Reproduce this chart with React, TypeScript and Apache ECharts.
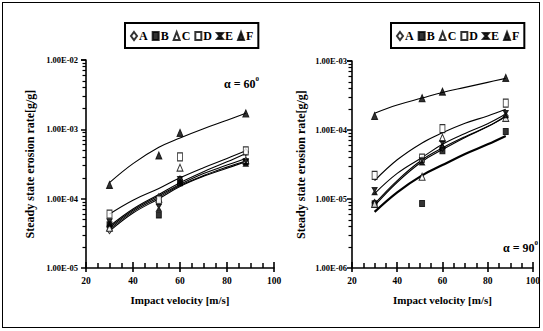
import React, { useEffect, useRef } from "react";
import * as echarts from "echarts";

const X = [30, 51, 60, 88];
const FIT_X = [30, 40, 51, 60, 70, 80, 88];
const NAMES = ["A", "B", "C", "D", "E", "F"];
const X_TICKS = [20, 40, 60, 80, 100];

// alpha = 60 deg : measured points
const a60 = [3.5e-5, 1.05e-4, 1.9e-4, 4.7e-4];
const b60 = [4.2e-5, 5.8e-5, 1.7e-4, 3.4e-4];
const c60 = [3.8e-5, 1.0e-4, 2.8e-4, 3.6e-4];
const d60 = [6.0e-5, 9.6e-5, 4.0e-4, 4.9e-4];
const e60 = [4.5e-5, 7.4e-5, 1.85e-4, 3.3e-4];
const f60 = [1.58e-4, 4.2e-4, 8.9e-4, 1.7e-3];
// alpha = 60 deg : fitted curves read at FIT_X
const aFit60 = [4.0e-5, 7.1e-5, 1.15e-4, 1.7e-4, 2.45e-4, 3.4e-4, 4.5e-4];
const bFit60 = [3.4e-5, 6.2e-5, 1.0e-4, 1.5e-4, 2.1e-4, 2.75e-4, 3.4e-4];
const cFit60 = [3.8e-5, 6.8e-5, 1.1e-4, 1.6e-4, 2.3e-4, 3.05e-4, 3.8e-4];
const dFit60 = [6.0e-5, 9.5e-5, 1.4e-4, 2.0e-4, 2.8e-4, 3.8e-4, 4.9e-4];
const eFit60 = [3.6e-5, 6.5e-5, 1.05e-4, 1.55e-4, 2.15e-4, 2.85e-4, 3.5e-4];
const fFit60 = [1.7e-4, 3.2e-4, 5.5e-4, 7.5e-4, 1.02e-3, 1.35e-3, 1.7e-3];

// alpha = 90 deg : measured points
const a90 = [8.8e-6, 3.7e-5, 5.5e-5, 1.6e-4];
const b90 = [8.5e-6, 8.6e-6, 5.0e-5, 9.5e-5];
const c90 = [8.5e-6, 2.1e-5, 7.7e-5, 1.5e-4];
const d90 = [2.2e-5, 3.9e-5, 1.05e-4, 2.45e-4];
const e90 = [1.3e-5, 3.5e-5, 6.2e-5, 1.7e-4];
const f90 = [1.6e-4, 2.9e-4, 3.6e-4, 5.7e-4];
// alpha = 90 deg : fitted curves read at FIT_X
const aFit90 = [8.0e-6, 1.75e-5, 3.5e-5, 5.2e-5, 7.8e-5, 1.12e-4, 1.6e-4];
const bFit90 = [6.5e-6, 1.25e-5, 2.2e-5, 3.1e-5, 4.5e-5, 6.2e-5, 8.2e-5];
const cFit90 = [8.5e-6, 1.85e-5, 3.7e-5, 5.5e-5, 8.0e-5, 1.12e-4, 1.55e-4];
const dFit90 = [1.85e-5, 3.7e-5, 6.5e-5, 9.1e-5, 1.25e-4, 1.6e-4, 2.0e-4];
const eFit90 = [1.2e-5, 2.35e-5, 4.0e-5, 6.2e-5, 8.9e-5, 1.23e-4, 1.7e-4];
const fFit90 = [1.75e-4, 2.3e-4, 2.9e-4, 3.5e-4, 4.15e-4, 4.9e-4, 5.6e-4];

const POINTS = [
  [a60, b60, c60, d60, e60, f60],
  [a90, b90, c90, d90, e90, f90],
];
const FITS = [
  [aFit60, bFit60, cFit60, dFit60, eFit60, fFit60],
  [aFit90, bFit90, cFit90, dFit90, eFit90, fFit90],
];

const FONT = "Liberation Serif";

const SYMBOLS: any[] = [
  { symbol: "diamond", size: [5, 7], fill: "#fff" },
  { symbol: "rect", size: [5, 6], fill: "#000" },
  { symbol: "triangle", size: [6, 7], fill: "#fff" },
  { symbol: "rect", size: [5, 8], fill: "#fff" },
  { symbol: "path://M0 0H10L6 5L10 10H0L4 5Z", size: [5, 7], fill: "#000" },
  { symbol: "triangle", size: [6, 7], fill: "#000" },
];

function fmtExp(v: number) {
  const e = Math.round(Math.log10(v));
  const s = e < 0 ? "-" : "+";
  const a = Math.abs(e);
  return "1.00E" + s + (a < 10 ? "0" + a : "" + a);
}

export default function App() {
  const ref = useRef<HTMLDivElement>(null);
  useEffect(() => {
    const chart = echarts.init(ref.current!, null, { renderer: "svg" });
    const grids = [
      { left: 86, top: 60, width: 188, height: 208 },
      { left: 352, top: 61, width: 188, height: 207 },
    ];
    const xAxes: any[] = [];
    const yAxes: any[] = [];
    const yRanges = [
      [1e-5, 1e-2],
      [1e-6, 1e-3],
    ];
    grids.forEach((g, i) => {
      xAxes.push({
        type: "value",
        gridIndex: i,
        min: X_TICKS[0],
        max: X_TICKS[X_TICKS.length - 1],
        interval: 20,
        axisLine: { show: true, lineStyle: { color: "#000", width: 1.6 } },
        axisTick: { show: true, inside: true, length: 6, lineStyle: { color: "#000", width: 1.6 } },
        minorTick: { show: true, splitNumber: 4, length: 5, lineStyle: { color: "#000", width: 1.5 } },
        splitLine: { show: false },
        axisLabel: {
          color: "#000",
          fontFamily: FONT,
          fontWeight: "bold",
          fontSize: 9.5,
          margin: 8,
        },
        name: "Impact velocity [m/s]",
        nameLocation: "middle",
        nameGap: 26,
        nameTextStyle: { color: "#000", fontFamily: FONT, fontWeight: "bold", fontSize: 11 },
      });
      xAxes.push({
        type: "value",
        gridIndex: i,
        min: X_TICKS[0],
        max: X_TICKS[X_TICKS.length - 1],
        interval: 20,
        position: "bottom",
        axisLine: { show: false },
        axisTick: { show: true, inside: false, length: 4, lineStyle: { color: "#000", width: 1.6 } },
        axisLabel: { show: false },
        splitLine: { show: false },
      });
      yAxes.push({
        type: "log",
        gridIndex: i,
        min: yRanges[i][0],
        max: yRanges[i][1],
        axisLine: { show: true, lineStyle: { color: "#000", width: 1.6 } },
        axisTick: { show: true, length: 5, lineStyle: { color: "#000", width: 1.5 } },
        minorTick: { show: true, splitNumber: 9, length: 3.5, lineStyle: { color: "#000", width: 1.2 } },
        splitLine: { show: false },
        axisLabel: {
          color: "#000",
          fontFamily: FONT,
          fontWeight: "bold",
          fontSize: 8.5,
          margin: i === 0 ? 8 : 5,
          formatter: (v: number) => fmtExp(v),
        },
        name: "Steady state erosion rate[g/g]",
        nameLocation: "middle",
        nameGap: i === 0 ? 50 : 45,
        nameTextStyle: { color: "#000", fontFamily: FONT, fontWeight: "bold", fontSize: 12 },
      });
    });

    const series: any[] = [];
    [0, 1].forEach((p) => {
      NAMES.forEach((n, k) => {
        const fitWidth = p === 1 && k === 1 ? 2.2 : 1.1;
        series.push({
          type: "line",
          name: n + " fit",
          xAxisIndex: p * 2,
          yAxisIndex: p,
          data: FIT_X.map((x, j) => [x, FITS[p][k][j]]),
          smooth: 0.4,
          symbol: "none",
          lineStyle: { color: "#000", width: fitWidth },
          z: 2,
        });
      });
      NAMES.forEach((n, k) => {
        const s = SYMBOLS[k];
        series.push({
          type: "scatter",
          name: n,
          xAxisIndex: p * 2,
          yAxisIndex: p,
          data: X.map((x, j) => [x, POINTS[p][k][j]]),
          symbol: s.symbol,
          symbolSize: s.size,
          itemStyle: { color: s.fill, borderColor: "#000", borderWidth: 1 },
          z: 3,
        });
      });
    });

    const legendBase = {
      data: NAMES,
      top: 23,
      orient: "horizontal",
      borderColor: "#000",
      borderWidth: 2,
      padding: [7, 5, 6, 5],
      itemWidth: 6,
      itemHeight: 8,
      itemGap: 4,
      textStyle: { color: "#000", fontFamily: FONT, fontWeight: "bold", fontSize: 12, padding: [0, 0, 0, -3] },
      selectedMode: false,
    };

    const alphaText = (x: number, y: number, deg: string) => ({
      type: "text",
      left: x,
      top: y,
      style: {
        text: "{a|α = " + deg + "}{s|0}",
        rich: {
          a: { fontFamily: FONT, fontSize: 12, fill: "#000", fontWeight: "bold", verticalAlign: "bottom" },
          s: { fontFamily: FONT, fontSize: 7, fill: "#000", fontWeight: "bold", verticalAlign: "top", padding: [0, 0, 8, 0] },
        },
      },
    });

    chart.setOption({
      animation: false,
      grid: grids,
      xAxis: xAxes,
      yAxis: yAxes,
      legend: [
        { ...legendBase, left: 125 },
        { ...legendBase, left: 391 },
      ],
      series,
      graphic: [alphaText(224, 75, "60"), alphaText(503, 239, "90")],
    });
    return () => chart.dispose();
  }, []);
  return (
    <div style={{ position: "fixed", left: 0, top: 0, width: 543, height: 331, background: "#fff" }}>
      <div
        style={{
          position: "absolute",
          left: 2,
          top: 2,
          width: 536,
          height: 324,
          border: "1.5px solid #000",
          pointerEvents: "none",
        }}
      />
      <div ref={ref} style={{ position: "absolute", left: 0, top: 0, width: 543, height: 331 }} />
    </div>
  );
}
